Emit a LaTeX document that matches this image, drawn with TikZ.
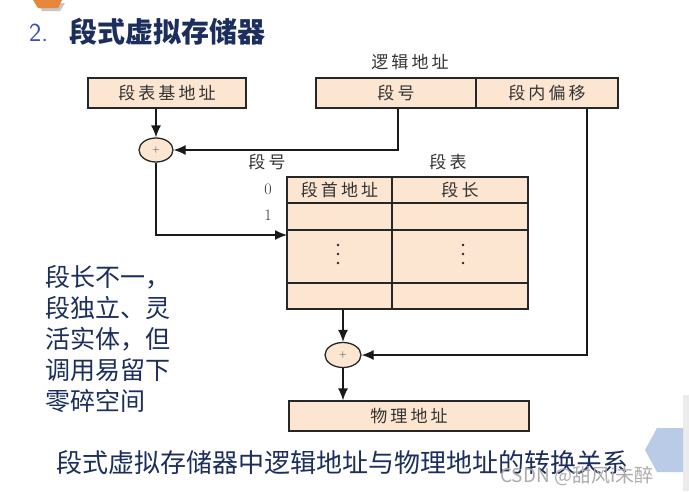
\documentclass[tikz,border=0pt]{standalone}
\usepackage{fontspec}
\usetikzlibrary{arrows.meta,shapes.geometric}
\newfontfamily\cjk{Noto Sans CJK SC}
\newfontfamily\cjksp[LetterSpace=18]{Noto Sans CJK SC}
\definecolor{peach}{HTML}{FCE6D2}
\definecolor{navy}{HTML}{1C2E5E}
\definecolor{numblue}{HTML}{3A4FB8}
\definecolor{boxtext}{HTML}{333333}
\definecolor{hexblue}{HTML}{B9CBE6}
\definecolor{hexorange}{HTML}{E8873A}
\tikzset{
  box/.style={draw=black!85, line width=1.3pt, fill=peach, minimum height=30pt, inner sep=0pt,
    font=\cjksp\fontsize{17}{17}\selectfont, text=boxtext},
  cell/.style={draw=black!85, line width=1.3pt, fill=peach, inner sep=0pt,
    font=\cjksp\fontsize{17}{17}\selectfont, text=boxtext},
  sumnode/.style={ellipse, draw=black!85, line width=1.3pt, fill=peach, inner sep=0pt,
    font=\fontsize{10}{10}\selectfont, text=boxtext},
  lbl/.style={font=\cjksp\fontsize{17}{17}\selectfont, text=boxtext, inner sep=0pt},
  arr/.style={-{Latex[length=12pt,width=10pt]}, line width=1.3pt, draw=black!90},
  dotm/.style={circle, fill=black!85, inner sep=0pt, minimum size=2.6pt}
}
\begin{document}
\begin{tikzpicture}[x=1pt,y=-1pt]
\useasboundingbox (0,0) rectangle (689,491);
\fill[white] (0,0) rectangle (689,491);
% decorations
\fill[gray!45] (38,3) -- (65,3) -- (60,11) -- (42,11) -- cycle;
\fill[hexorange] (33,0) -- (62,0) -- (58,8) -- (38,8) -- cycle;
\fill[black!8] (683,395) rectangle (689,491);
\fill[hexblue] (645,450) -- (657,428) -- (683,428) -- (683,472) -- (657,472) -- cycle;
% title
\node[anchor=west, inner sep=0pt, text=numblue, font=\fontsize{26}{26}\selectfont\sffamily] (num) at (29,33) {2.};
\node[anchor=west, inner sep=0pt, text=navy, font=\cjk\bfseries\fontsize{28}{28}\selectfont] (title) at (69,32) {段式虚拟存储器};
% address boxes
\node[box, minimum width=158pt] (base) at (167,93) {段表基地址};
\node[box, minimum width=160pt] (segno) at (396,93) {段号};
\node[box, minimum width=142pt] (offset) at (547,93) {段内偏移};
\node[lbl] (logic) at (410,62) {逻辑地址};
% adders
\node[sumnode, minimum width=34pt, minimum height=24pt] (add1) at (156,150) {+};
\node[sumnode, minimum width=36pt, minimum height=25pt] (add2) at (343,355) {+};
% table
\node[cell, minimum width=105pt, minimum height=26pt] (c11) at (339.5,190) {段首地址};
\node[cell, minimum width=136pt, minimum height=26pt] (c12) at (460,190) {段长};
\node[cell, minimum width=105pt, minimum height=27pt] (c21) at (339.5,216.5) {};
\node[cell, minimum width=136pt, minimum height=27pt] (c22) at (460,216.5) {};
\node[cell, minimum width=105pt, minimum height=53pt] (c31) at (339.5,256.5) {};
\node[cell, minimum width=136pt, minimum height=53pt] (c32) at (460,256.5) {};
\node[cell, minimum width=105pt, minimum height=26pt] (c41) at (339.5,296) {};
\node[cell, minimum width=136pt, minimum height=26pt] (c42) at (460,296) {};
\node[dotm] (d1) at (338,245) {};
\node[dotm] (d2) at (338,254) {};
\node[dotm] (d3) at (338,263) {};
\node[dotm] (d4) at (463,245) {};
\node[dotm] (d5) at (463,254) {};
\node[dotm] (d6) at (463,263) {};
\node[lbl] (lsegno) at (267,162) {段号};
\node[lbl] (ltable) at (448,162) {段表};
\node[lbl, font=\fontsize{16}{16}\selectfont] (n0) at (268,189) {0};
\node[lbl, font=\fontsize{16}{16}\selectfont] (n1) at (268,215) {1};
% physical address
\node[box, minimum width=240pt] (phys) at (409,416) {物理地址};
% connectors
\coordinate (tin) at (287,235);
\draw[arr] (add1.north |- base.south) -- (add1.north);
\draw[arr] ([xshift=2pt]segno.south) |- (add1.east);
\draw[arr] (add1.south) |- (tin);
\draw[arr] (add2.north |- c41.south) -- (add2.north);
\draw[arr] ([xshift=40pt]offset.south) |- (add2.east);
\draw[arr] (add2.south) -- (add2.south |- phys.north);
% left note
\node[anchor=north west, align=left, inner sep=0pt, text=navy, font=\cjk\fontsize{25}{31}\selectfont] (note) at (45,265)
  {段长不一，\\段独立、灵\\活实体，但\\调用易留下\\零碎空间};
% caption
\node[anchor=west, inner sep=0pt, text=navy, font=\cjk\fontsize{26}{26}\selectfont] (cap) at (56,463)
  {段式虚拟存储器中逻辑地址与物理地址的转换关系};
% watermark
\node[anchor=west, inner sep=0pt, text=gray!65, font=\cjk\fontsize{19}{19}\selectfont] (wm) at (500,476)
  {CSDN @甜风i未醉};
\end{tikzpicture}
\end{document}
